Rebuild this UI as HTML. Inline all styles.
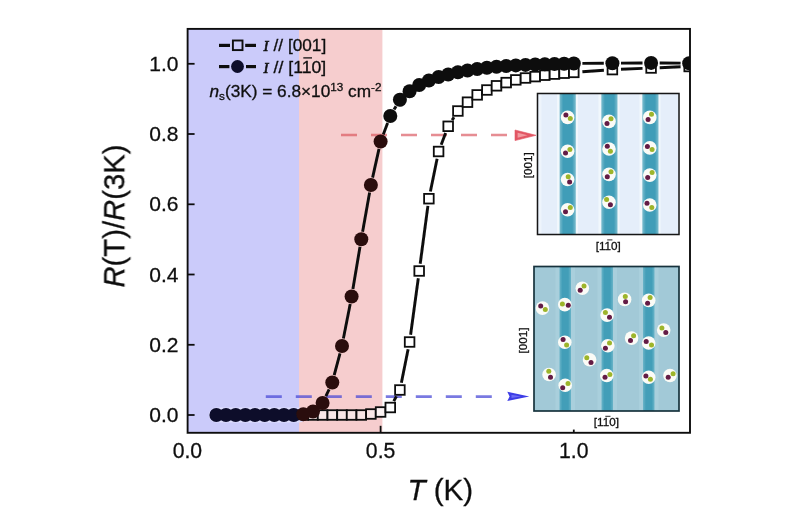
<!DOCTYPE html>
<html><head><meta charset="utf-8"><title>R(T)/R(3K) vs T</title>
<style>
html,body{margin:0;padding:0;background:#fff;}
body{width:800px;height:530px;overflow:hidden;font-family:"Liberation Sans",sans-serif;}
svg{display:block;}
text{font-family:"Liberation Sans",sans-serif;fill:#111;stroke:#111;stroke-width:0.3px;}
</style></head><body>
<svg width="800" height="530" viewBox="0 0 800 530">
<defs>
<linearGradient id="st1" x1="0" x2="1" y1="0" y2="0">
<stop offset="0" stop-color="#7dbdce"/><stop offset="0.22" stop-color="#409db8"/><stop offset="0.78" stop-color="#409db8"/><stop offset="1" stop-color="#7dbdce"/>
</linearGradient>
<linearGradient id="st2" x1="0" x2="1" y1="0" y2="0">
<stop offset="0" stop-color="#6ab4c8"/><stop offset="0.25" stop-color="#429eb8"/><stop offset="0.75" stop-color="#429eb8"/><stop offset="1" stop-color="#6ab4c8"/>
</linearGradient>
<filter id="soft" x="0" y="0" width="800" height="530" filterUnits="userSpaceOnUse"><feGaussianBlur stdDeviation="0.45"/></filter>
<clipPath id="plot"><rect x="187.6" y="28.9" width="502.4" height="403.90000000000003"/></clipPath>
</defs>
<rect width="800" height="530" fill="#fff"/>
<g filter="url(#soft)">
<!-- shaded regions -->
<rect x="187.6" y="28.9" width="111.4" height="403.90000000000003" fill="#cbcbfa"/>
<rect x="299.0" y="28.9" width="83.39999999999998" height="403.90000000000003" fill="#f6cdce"/>

<!-- inset 1 -->
<g>
<rect x="537.5" y="93.5" width="141.5" height="141" fill="#e5eefa"/>
<rect x="538.5" y="93.5" width="3" height="141" fill="#eef4fb"/>
<rect x="557" y="93.5" width="21" height="141" fill="#f1f7fc"/>
<rect x="598.5" y="93.5" width="21" height="141" fill="#f1f7fc"/>
<rect x="639.5" y="93.5" width="21" height="141" fill="#f1f7fc"/>
<rect x="559.6" y="93.5" width="16.2" height="141" fill="url(#st1)"/>
<rect x="601.3" y="93.5" width="16.2" height="141" fill="url(#st1)"/>
<rect x="642.3" y="93.5" width="16.2" height="141" fill="url(#st1)"/>
<circle cx="567.6" cy="117.4" r="6.8" fill="#fbfbf6"/><circle cx="570.3" cy="118.4" r="2.5" fill="#9db52c"/><circle cx="565.9" cy="115.0" r="2.5" fill="#641a44"/>
<circle cx="567.6" cy="151.3" r="6.8" fill="#fbfbf6"/><circle cx="569.9" cy="149.6" r="2.5" fill="#9db52c"/><circle cx="565.5" cy="153.0" r="2.5" fill="#641a44"/>
<circle cx="567.6" cy="179.5" r="6.8" fill="#fbfbf6"/><circle cx="568.2" cy="176.8" r="2.5" fill="#9db52c"/><circle cx="569.6" cy="181.9" r="2.5" fill="#641a44"/>
<circle cx="567.6" cy="209.8" r="6.8" fill="#fbfbf6"/><circle cx="570.3" cy="207.4" r="2.5" fill="#9db52c"/><circle cx="565.5" cy="211.8" r="2.5" fill="#641a44"/>
<circle cx="609.0" cy="121.4" r="6.8" fill="#fbfbf6"/><circle cx="611.0" cy="118.7" r="2.5" fill="#9db52c"/><circle cx="607.0" cy="123.5" r="2.5" fill="#641a44"/>
<circle cx="609.0" cy="149.0" r="6.8" fill="#fbfbf6"/><circle cx="610.4" cy="151.3" r="2.5" fill="#9db52c"/><circle cx="607.3" cy="146.2" r="2.5" fill="#641a44"/>
<circle cx="609.0" cy="174.4" r="6.8" fill="#fbfbf6"/><circle cx="611.0" cy="171.7" r="2.5" fill="#9db52c"/><circle cx="607.3" cy="176.8" r="2.5" fill="#641a44"/>
<circle cx="609.0" cy="202.3" r="6.8" fill="#fbfbf6"/><circle cx="606.6" cy="199.6" r="2.5" fill="#9db52c"/><circle cx="610.4" cy="204.7" r="2.5" fill="#641a44"/>
<circle cx="649.8" cy="117.4" r="6.8" fill="#fbfbf6"/><circle cx="651.5" cy="114.3" r="2.5" fill="#9db52c"/><circle cx="648.1" cy="119.4" r="2.5" fill="#641a44"/>
<circle cx="649.8" cy="147.9" r="6.8" fill="#fbfbf6"/><circle cx="652.1" cy="149.6" r="2.5" fill="#9db52c"/><circle cx="647.4" cy="146.6" r="2.5" fill="#641a44"/>
<circle cx="649.8" cy="175.1" r="6.8" fill="#fbfbf6"/><circle cx="652.1" cy="172.4" r="2.5" fill="#9db52c"/><circle cx="647.7" cy="177.5" r="2.5" fill="#641a44"/>
<circle cx="649.8" cy="205.0" r="6.8" fill="#fbfbf6"/><circle cx="651.8" cy="207.4" r="2.5" fill="#9db52c"/><circle cx="647.0" cy="203.3" r="2.5" fill="#641a44"/>
<rect x="537.5" y="93.5" width="141.5" height="141" fill="none" stroke="#141414" stroke-width="1.5"/>
</g>
<!-- inset 2 -->
<g>
<rect x="534" y="266.5" width="145" height="144.5" fill="#a2c9d7"/>
<rect x="555.5" y="266.5" width="19.5" height="144.5" fill="#a9cfdc"/>
<rect x="597.5" y="266.5" width="19.5" height="144.5" fill="#a9cfdc"/>
<rect x="639" y="266.5" width="19.5" height="144.5" fill="#a9cfdc"/>
<rect x="559.5" y="266.5" width="11.5" height="144.5" fill="url(#st2)"/>
<rect x="601.5" y="266.5" width="11.5" height="144.5" fill="url(#st2)"/>
<rect x="643" y="266.5" width="11.5" height="144.5" fill="url(#st2)"/>
<circle cx="582.3" cy="288.2" r="6.8" fill="#fbfbf6"/><circle cx="584.0" cy="286.1" r="2.5" fill="#9db52c"/><circle cx="580.2" cy="290.3" r="2.5" fill="#641a44"/>
<circle cx="542.5" cy="308.1" r="6.8" fill="#fbfbf6"/><circle cx="545.3" cy="309.5" r="2.5" fill="#9db52c"/><circle cx="540.7" cy="306.0" r="2.5" fill="#641a44"/>
<circle cx="564.8" cy="304.6" r="6.8" fill="#fbfbf6"/><circle cx="562.4" cy="303.9" r="2.5" fill="#9db52c"/><circle cx="568.3" cy="305.3" r="2.5" fill="#641a44"/>
<circle cx="624.6" cy="299.4" r="6.8" fill="#fbfbf6"/><circle cx="625.3" cy="296.6" r="2.5" fill="#9db52c"/><circle cx="625.6" cy="301.8" r="2.5" fill="#641a44"/>
<circle cx="648.7" cy="300.4" r="6.8" fill="#fbfbf6"/><circle cx="650.1" cy="297.6" r="2.5" fill="#9db52c"/><circle cx="647.6" cy="303.2" r="2.5" fill="#641a44"/>
<circle cx="607.1" cy="315.1" r="6.8" fill="#fbfbf6"/><circle cx="605.4" cy="312.6" r="2.5" fill="#9db52c"/><circle cx="609.5" cy="317.2" r="2.5" fill="#641a44"/>
<circle cx="663.7" cy="330.1" r="6.8" fill="#fbfbf6"/><circle cx="661.9" cy="328.0" r="2.5" fill="#9db52c"/><circle cx="665.8" cy="332.5" r="2.5" fill="#641a44"/>
<circle cx="564.8" cy="342.3" r="6.8" fill="#fbfbf6"/><circle cx="566.6" cy="345.1" r="2.5" fill="#9db52c"/><circle cx="563.1" cy="339.5" r="2.5" fill="#641a44"/>
<circle cx="607.8" cy="345.8" r="6.8" fill="#fbfbf6"/><circle cx="609.5" cy="343.0" r="2.5" fill="#9db52c"/><circle cx="605.4" cy="348.3" r="2.5" fill="#641a44"/>
<circle cx="631.6" cy="338.1" r="6.8" fill="#fbfbf6"/><circle cx="633.6" cy="335.7" r="2.5" fill="#9db52c"/><circle cx="630.5" cy="340.6" r="2.5" fill="#641a44"/>
<circle cx="648.7" cy="343.0" r="6.8" fill="#fbfbf6"/><circle cx="651.5" cy="345.1" r="2.5" fill="#9db52c"/><circle cx="646.2" cy="341.6" r="2.5" fill="#641a44"/>
<circle cx="589.6" cy="359.8" r="6.8" fill="#fbfbf6"/><circle cx="586.8" cy="357.7" r="2.5" fill="#9db52c"/><circle cx="591.0" cy="362.6" r="2.5" fill="#641a44"/>
<circle cx="549.1" cy="374.5" r="6.8" fill="#fbfbf6"/><circle cx="548.8" cy="371.3" r="2.5" fill="#9db52c"/><circle cx="550.5" cy="377.2" r="2.5" fill="#641a44"/>
<circle cx="565.2" cy="385.3" r="6.8" fill="#fbfbf6"/><circle cx="568.0" cy="383.5" r="2.5" fill="#9db52c"/><circle cx="562.7" cy="387.7" r="2.5" fill="#641a44"/>
<circle cx="606.8" cy="375.5" r="6.8" fill="#fbfbf6"/><circle cx="609.9" cy="374.5" r="2.5" fill="#9db52c"/><circle cx="605.0" cy="377.2" r="2.5" fill="#641a44"/>
<circle cx="648.7" cy="377.2" r="6.8" fill="#fbfbf6"/><circle cx="650.4" cy="379.3" r="2.5" fill="#9db52c"/><circle cx="645.9" cy="375.9" r="2.5" fill="#641a44"/>
<circle cx="670.0" cy="375.5" r="6.8" fill="#fbfbf6"/><circle cx="673.1" cy="373.8" r="2.5" fill="#9db52c"/><circle cx="668.2" cy="377.2" r="2.5" fill="#641a44"/>
<rect x="534" y="266.5" width="145" height="144.5" fill="none" stroke="#15323c" stroke-width="1.7"/>
</g>

<!-- dashed arrows -->
<line x1="341" y1="135" x2="509" y2="135" stroke="#d64853" stroke-opacity="0.62" stroke-width="2.7" stroke-dasharray="16 14"/>
<path d="M515 130 L536 135.3 L515 140.6 Z" fill="#e25664" stroke="#e25664" stroke-width="0.6" stroke-linejoin="round"/><path d="M517.6 132.8 L527.5 135.3 L517.6 137.8 Z" fill="#f29aa0"/>
<line x1="265.8" y1="396.6" x2="495" y2="396.6" stroke="#4646d6" stroke-opacity="0.72" stroke-width="2.6" stroke-dasharray="16 14"/>
<path d="M507.3 391.8 L529.3 396.4 L507.3 401 L509.6 396.4 Z" fill="#3c3ce6"/><path d="M511.5 394.8 L521 396.4 L511.5 398 Z" fill="#6c6cf4"/>

<!-- data lines -->
<g stroke="#0c0c0c" stroke-width="2.9" stroke-linecap="butt" clip-path="url(#plot)">
<line x1="393.8" y1="401.1" x2="396.4" y2="396.4"/>
<line x1="401.4" y1="382.8" x2="408.1" y2="349.2"/>
<line x1="410.6" y1="334.8" x2="418.3" y2="278.2"/>
<line x1="420.2" y1="263.8" x2="427.9" y2="205.9"/>
<line x1="430.4" y1="191.5" x2="437.1" y2="158.7"/>
<line x1="441.2" y1="144.7" x2="445.6" y2="133.1"/>
<line x1="452.1" y1="120.1" x2="454.0" y2="117.2"/>
<line x1="582.4" y1="71.8" x2="603.9" y2="70.2"/>
<line x1="621.0" y1="69.2" x2="642.5" y2="68.4"/>
<line x1="659.7" y1="67.7" x2="680.6" y2="66.8"/>
<line x1="325.9" y1="396.1" x2="329.1" y2="389.4"/>
<line x1="334.2" y1="375.2" x2="340.0" y2="353.3"/>
<line x1="343.4" y1="338.5" x2="350.2" y2="304.0"/>
<line x1="352.9" y1="289.0" x2="360.0" y2="246.8"/>
<line x1="362.6" y1="231.8" x2="369.6" y2="192.5"/>
<line x1="372.6" y1="177.6" x2="379.0" y2="148.9"/>
<line x1="383.3" y1="134.4" x2="387.6" y2="123.1"/>
<line x1="394.1" y1="109.5" x2="396.0" y2="106.2"/>
<line x1="582.4" y1="63.4" x2="603.8" y2="63.3"/>
<line x1="621.0" y1="63.1" x2="642.5" y2="63.0"/>
<line x1="659.7" y1="63.0" x2="680.6" y2="63.1"/>
</g>
<!-- markers -->
<g fill="#fff" stroke="#0c0c0c" stroke-width="1.8" clip-path="url(#plot)">
<rect x="298.5" y="410.2" width="9.6" height="9.6" fill="#f8e6e6"/>
<rect x="308.2" y="410.2" width="9.6" height="9.6" fill="#f8e6e6"/>
<rect x="317.8" y="410.2" width="9.6" height="9.6" fill="#f8e6e6"/>
<rect x="327.5" y="410.2" width="9.6" height="9.6" fill="#f8e6e6"/>
<rect x="337.2" y="410.2" width="9.6" height="9.6" fill="#f8e6e6"/>
<rect x="346.8" y="410.2" width="9.6" height="9.6" fill="#f8e6e6"/>
<rect x="356.5" y="410.2" width="9.6" height="9.6" fill="#f8e6e6"/>
<rect x="366.1" y="409.2" width="9.6" height="9.6" fill="#f8e6e6"/>
<rect x="375.8" y="407.2" width="9.6" height="9.6" fill="#fbf2f2"/>
<rect x="385.5" y="402.7" width="9.6" height="9.6" fill="#ffffff"/>
<rect x="395.1" y="385.2" width="9.6" height="9.6" fill="#ffffff"/>
<rect x="404.8" y="337.2" width="9.6" height="9.6" fill="#ffffff"/>
<rect x="414.4" y="266.2" width="9.6" height="9.6" fill="#ffffff"/>
<rect x="424.1" y="193.9" width="9.6" height="9.6" fill="#ffffff"/>
<rect x="433.8" y="146.7" width="9.6" height="9.6" fill="#ffffff"/>
<rect x="443.4" y="121.5" width="9.6" height="9.6" fill="#ffffff"/>
<rect x="453.1" y="106.2" width="9.6" height="9.6" fill="#ffffff"/>
<rect x="462.7" y="97.4" width="9.6" height="9.6" fill="#ffffff"/>
<rect x="472.4" y="90.1" width="9.6" height="9.6" fill="#ffffff"/>
<rect x="482.1" y="85.2" width="9.6" height="9.6" fill="#ffffff"/>
<rect x="491.7" y="81.0" width="9.6" height="9.6" fill="#ffffff"/>
<rect x="501.4" y="77.8" width="9.6" height="9.6" fill="#ffffff"/>
<rect x="511.0" y="75.1" width="9.6" height="9.6" fill="#ffffff"/>
<rect x="520.7" y="73.2" width="9.6" height="9.6" fill="#ffffff"/>
<rect x="530.4" y="71.8" width="9.6" height="9.6" fill="#ffffff"/>
<rect x="540.0" y="70.4" width="9.6" height="9.6" fill="#ffffff"/>
<rect x="549.7" y="69.3" width="9.6" height="9.6" fill="#ffffff"/>
<rect x="559.3" y="68.4" width="9.6" height="9.6" fill="#ffffff"/>
<rect x="569.0" y="67.6" width="9.6" height="9.6" fill="#ffffff"/>
<rect x="607.6" y="64.8" width="9.6" height="9.6" fill="#ffffff"/>
<rect x="646.3" y="63.2" width="9.6" height="9.6" fill="#ffffff"/>
<rect x="684.4" y="61.7" width="9.6" height="9.6" fill="#ffffff"/>
</g>
<g fill="#0a0a0a" clip-path="url(#plot)">
<line x1="216.4" y1="415" x2="299.0" y2="415" stroke="#dedefd" stroke-width="15.2" stroke-linecap="round"/>
<line x1="216.4" y1="415" x2="299.0" y2="415" stroke="#0a0a2c" stroke-width="10.5"/>
<line x1="299.0" y1="415" x2="303.3" y2="414.6" stroke="#2a0b0b" stroke-width="10.5"/>
<circle cx="216.4" cy="415.0" r="7.0" fill="#0a0a2c"/>
<circle cx="226.0" cy="415.0" r="7.0" fill="#0a0a2c"/>
<circle cx="235.7" cy="415.0" r="7.0" fill="#0a0a2c"/>
<circle cx="245.4" cy="415.0" r="7.0" fill="#0a0a2c"/>
<circle cx="255.0" cy="415.0" r="7.0" fill="#0a0a2c"/>
<circle cx="264.7" cy="415.0" r="7.0" fill="#0a0a2c"/>
<circle cx="274.3" cy="415.0" r="7.0" fill="#0a0a2c"/>
<circle cx="284.0" cy="415.0" r="7.0" fill="#0a0a2c"/>
<circle cx="293.7" cy="415.0" r="7.0" fill="#0a0a2c"/>
<circle cx="303.3" cy="414.3" r="7.0" fill="#2a0b0b"/>
<circle cx="313.0" cy="411.5" r="7.0" fill="#2a0b0b"/>
<circle cx="322.6" cy="403.0" r="7.0" fill="#2a0b0b"/>
<circle cx="332.3" cy="382.5" r="7.0" fill="#2a0b0b"/>
<circle cx="342.0" cy="346.0" r="7.0" fill="#2a0b0b"/>
<circle cx="351.6" cy="296.5" r="7.0" fill="#2a0b0b"/>
<circle cx="361.3" cy="239.3" r="7.0" fill="#2a0b0b"/>
<circle cx="370.9" cy="185.0" r="7.0" fill="#2a0b0b"/>
<circle cx="380.6" cy="141.5" r="7.0" fill="#2a0b0b"/>
<circle cx="390.3" cy="116.0" r="7.0" fill="#0a0a0a"/>
<circle cx="399.9" cy="99.7" r="7.0" fill="#0a0a0a"/>
<circle cx="409.6" cy="91.2" r="7.0" fill="#0a0a0a"/>
<circle cx="419.2" cy="85.0" r="7.0" fill="#0a0a0a"/>
<circle cx="428.9" cy="80.5" r="7.0" fill="#0a0a0a"/>
<circle cx="438.6" cy="77.0" r="7.0" fill="#0a0a0a"/>
<circle cx="448.2" cy="74.5" r="7.0" fill="#0a0a0a"/>
<circle cx="457.9" cy="72.3" r="7.0" fill="#0a0a0a"/>
<circle cx="467.5" cy="70.5" r="7.0" fill="#0a0a0a"/>
<circle cx="477.2" cy="69.0" r="7.0" fill="#0a0a0a"/>
<circle cx="486.9" cy="67.8" r="7.0" fill="#0a0a0a"/>
<circle cx="496.5" cy="66.8" r="7.0" fill="#0a0a0a"/>
<circle cx="506.2" cy="66.0" r="7.0" fill="#0a0a0a"/>
<circle cx="515.8" cy="65.4" r="7.0" fill="#0a0a0a"/>
<circle cx="525.5" cy="64.9" r="7.0" fill="#0a0a0a"/>
<circle cx="535.2" cy="64.5" r="7.0" fill="#0a0a0a"/>
<circle cx="544.8" cy="64.2" r="7.0" fill="#0a0a0a"/>
<circle cx="554.5" cy="63.9" r="7.0" fill="#0a0a0a"/>
<circle cx="564.1" cy="63.7" r="7.0" fill="#0a0a0a"/>
<circle cx="573.8" cy="63.5" r="7.0" fill="#0a0a0a"/>
<circle cx="612.4" cy="63.2" r="7.0" fill="#0a0a0a"/>
<circle cx="651.1" cy="62.9" r="7.0" fill="#0a0a0a"/>
<circle cx="689.2" cy="63.2" r="7.0" fill="#0a0a0a"/>
</g>
<!-- tint of regions over markers -->

<!-- frame -->
<rect x="187.6" y="28.9" width="502.4" height="403.90000000000003" fill="none" stroke="#111" stroke-width="1.9"/>
<!-- ticks -->
<g stroke="#111" stroke-width="1.8">
<line x1="187.6" y1="415.0" x2="194.6" y2="415.0"/>
<line x1="187.6" y1="344.8" x2="194.6" y2="344.8"/>
<line x1="187.6" y1="274.5" x2="194.6" y2="274.5"/>
<line x1="187.6" y1="204.3" x2="194.6" y2="204.3"/>
<line x1="187.6" y1="134.0" x2="194.6" y2="134.0"/>
<line x1="187.6" y1="63.8" x2="194.6" y2="63.8"/>
<line x1="380.6" y1="432.8" x2="380.6" y2="425.8"/>
<line x1="573.8" y1="432.8" x2="573.8" y2="429.6"/>
</g>
<!-- tick labels -->
<g font-size="21" text-anchor="end">
<text x="178.5" y="422.1">0.0</text>
<text x="178.5" y="351.9">0.2</text>
<text x="178.5" y="281.6">0.4</text>
<text x="178.5" y="211.4">0.6</text>
<text x="178.5" y="141.1">0.8</text>
<text x="178.5" y="70.9">1.0</text>
</g>
<g font-size="21.2" text-anchor="middle">
<text x="187.4" y="457.5">0.0</text>
<text x="380.6" y="457.5">0.5</text>
<text x="573.8" y="457.5">1.0</text>
</g>
<!-- axis titles -->
<text x="440.3" y="500.2" font-size="29.6" text-anchor="middle"><tspan font-style="italic">T</tspan> (K)</text>
<text transform="translate(124.3,216) rotate(-90)" font-size="29.3" text-anchor="middle"><tspan font-style="italic">R</tspan>(T)/<tspan font-style="italic">R</tspan>(3K)</text>

<!-- legend -->
<g stroke="#0c0c0c" stroke-width="3.2">
<line x1="219" y1="45.4" x2="230" y2="45.4"/><line x1="245.2" y1="45.4" x2="256" y2="45.4"/>
<line x1="219" y1="66.6" x2="229.4" y2="66.6"/><line x1="246" y1="66.6" x2="256" y2="66.6"/>
</g>
<rect x="232.9" y="40.5" width="9.6" height="9.6" fill="none" stroke="#0c0c0c" stroke-width="1.9"/>
<circle cx="237.5" cy="66.5" r="6.4" fill="#0a0a2c"/>
<g font-size="16.2" stroke="#111" stroke-width="0.35">
<text x="263.5" y="51"><tspan font-style="italic" font-family="Liberation Serif" font-size="15" stroke-width="0.6">I</tspan></text>
<text x="273.6" y="51" textLength="52.6" lengthAdjust="spacingAndGlyphs">// [001]</text>
<text x="263.5" y="72.7"><tspan font-style="italic" font-family="Liberation Serif" font-size="15" stroke-width="0.6">I</tspan></text>
<text x="273.6" y="72.7" textLength="52.6" lengthAdjust="spacingAndGlyphs">// [110]</text>
<text x="209.5" y="96.5" textLength="172" lengthAdjust="spacingAndGlyphs"><tspan font-style="italic">n</tspan><tspan font-size="11" dy="3.5">s</tspan><tspan dy="-3.5">(3K) = 6.8×10</tspan><tspan font-size="11" dy="-6">13</tspan><tspan dy="6"> cm</tspan><tspan font-size="11" dy="-6">-2</tspan></text>
</g>
<line x1="303.3" y1="57.9" x2="312" y2="57.9" stroke="#111" stroke-width="1.3"/>

<!-- inset labels -->
<g font-size="11.7" text-anchor="middle" fill="#151515" stroke="#151515" stroke-width="0.2">
<text x="608.3" y="249.6">[110]</text>
<text x="606.4" y="426">[110]</text>
<text transform="translate(532.2,165.3) rotate(-90)">[001]</text>
<text transform="translate(527.3,340.5) rotate(-90)">[001]</text>
</g>
<line x1="607.2" y1="239.9" x2="612.4" y2="239.9" stroke="#111" stroke-width="0.9"/>
<line x1="605.3" y1="416.3" x2="610.5" y2="416.3" stroke="#111" stroke-width="0.9"/>
</g>
</svg>
</body></html>
